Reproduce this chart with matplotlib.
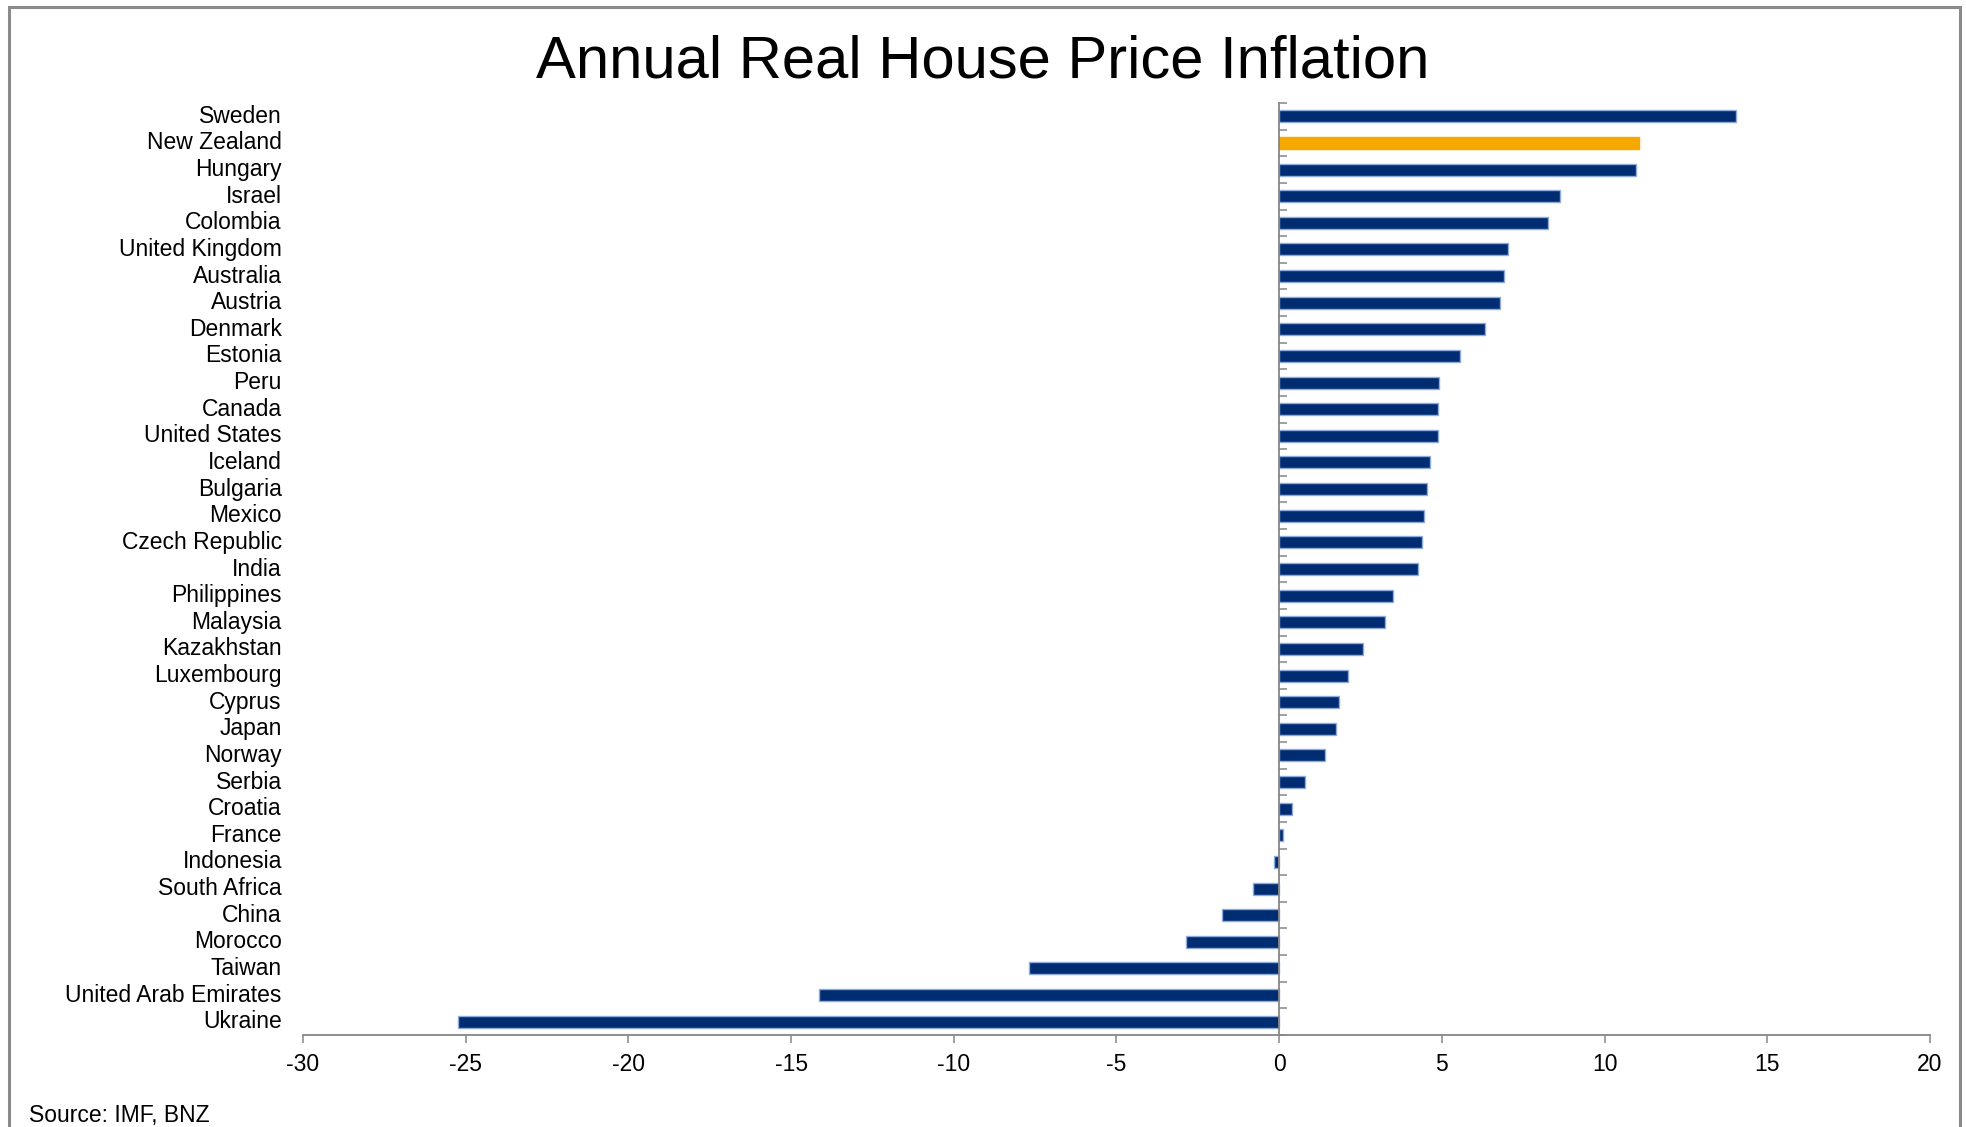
import matplotlib
matplotlib.use("Agg")
import matplotlib.pyplot as plt
import matplotlib.patches as mpatches
import numpy as np

plt.rcParams['font.family'] = ['Liberation Sans', 'DejaVu Sans']

# Data (annual % change in real house prices)
countries = ['Sweden', 'New Zealand', 'Hungary', 'Israel', 'Colombia',
             'United Kingdom', 'Australia', 'Austria', 'Denmark', 'Estonia',
             'Peru', 'Canada', 'United States', 'Iceland', 'Bulgaria',
             'Mexico', 'Czech Republic', 'India', 'Philippines', 'Malaysia',
             'Kazakhstan', 'Luxembourg', 'Cyprus', 'Japan', 'Norway',
             'Serbia', 'Croatia', 'France', 'Indonesia', 'South Africa',
             'China', 'Morocco', 'Taiwan', 'United Arab Emirates', 'Ukraine']
values = [14.05, 11.05, 10.97, 8.62, 8.25,
          7.02, 6.92, 6.8, 6.33, 5.55,
          4.92, 4.87, 4.87, 4.62, 4.55,
          4.45, 4.4, 4.28, 3.5, 3.26,
          2.58, 2.1, 1.85, 1.75, 1.41,
          0.79, 0.4, 0.12, -0.15, -0.82,
          -1.77, -2.87, -7.69, -14.13, -25.25]
highlight = 'New Zealand'
xticks = [-30, -25, -20, -15, -10, -5, 0, 5, 10, 15, 20]

navy = '#002D72'
orange = '#F5A800'
grey = '#868686'

fig = plt.figure(figsize=(19.66, 11.27), dpi=100)
W, H = 1966, 1127
ax = fig.add_axes([303 / W, 1 - 1035 / H, (1930 - 303) / W, (1035 - 103) / H])

ypos = np.arange(len(countries))
colors = [orange if c == highlight else navy for c in countries]
edges = [orange if c == highlight else '#8FAADC' for c in countries]
ax.barh(ypos, values, height=0.45, color=colors, edgecolor=edges, linewidth=1.0)

ax.set_xlim(-30, 20)
ax.set_ylim(len(countries) - 0.5, -0.5)
ax.set_xticks(xticks)
ax.set_xticklabels([str(t) for t in xticks], fontsize=16.5)
ax.tick_params(axis='x', direction='out', length=6, width=1.1, color=grey, pad=7)

# y axis sits at zero with small ticks between the bars
ax.spines['left'].set_position(('data', 0))
ax.spines['left'].set_color(grey)
ax.spines['left'].set_linewidth(1.3)
ax.spines['bottom'].set_color(grey)
ax.spines['bottom'].set_linewidth(1.3)
ax.spines['top'].set_visible(False)
ax.spines['right'].set_visible(False)
ax.set_yticks([])
ax.set_yticks(np.arange(len(countries) + 1) - 0.5, minor=True)
ax.tick_params(axis='y', which='minor', direction='in', length=5.5, width=1.1,
               color=grey, labelleft=False)

# country labels at the left of the plot area
for y, name in zip(ypos, countries):
    ax.text(-0.013, y, name, transform=ax.get_yaxis_transform(),
            ha='right', va='center', fontsize=16.5)

fig.text(0.5, 1 - 78 / H, 'Annual Real House Price Inflation',
         ha='center', va='baseline', fontsize=43)
fig.text(29 / W, 1 - 1122 / H, 'Source: IMF, BNZ', ha='left', va='baseline',
         fontsize=16.5)

# chart frame
frame = mpatches.Rectangle((9 / W, -0.05), (1960 - 9) / W, 1.05 - 7 / H,
                           transform=fig.transFigure, fill=False,
                           edgecolor='#8A8A8A', linewidth=2.2, clip_on=False)
fig.patches.append(frame)

fig.savefig('out.png', dpi=100)
